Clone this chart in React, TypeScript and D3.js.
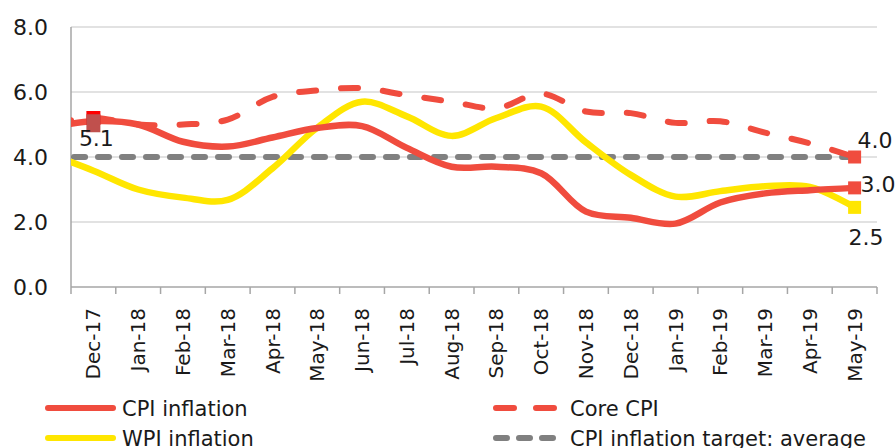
import * as d3 from "d3";
import React from "react";

// Nov-17 sits just left of the axis: only the start of its curve is visible
const months = ["Nov-17", "Dec-17", "Jan-18", "Feb-18", "Mar-18", "Apr-18", "May-18", "Jun-18", "Jul-18", "Aug-18", "Sep-18", "Oct-18", "Nov-18", "Dec-18", "Jan-19", "Feb-19", "Mar-19", "Apr-19", "May-19"];
const shown = months.slice(1);

const cpi = [4.9, 5.1, 5.0, 4.47, 4.32, 4.6, 4.89, 4.95, 4.28, 3.7, 3.7, 3.5, 2.32, 2.13, 1.95, 2.6, 2.88, 2.98, 3.05];
const coreCpi = [5.0, 5.2, 5.0, 5.0, 5.15, 5.85, 6.05, 6.12, 5.9, 5.7, 5.5, 5.95, 5.4, 5.35, 5.05, 5.1, 4.75, 4.42, 4.0];
const wpi = [4.1, 3.58, 3.0, 2.75, 2.68, 3.65, 4.9, 5.7, 5.25, 4.65, 5.2, 5.55, 4.45, 3.45, 2.78, 2.95, 3.1, 3.08, 2.45];
const target = [4.0, 4.0, 4.0, 4.0, 4.0, 4.0, 4.0, 4.0, 4.0, 4.0, 4.0, 4.0, 4.0, 4.0, 4.0, 4.0, 4.0, 4.0, 4.0];
const yTicks = [0, 2, 4, 6, 8];

const RED = "#f04c3e";
const YELLOW = "#ffe600";
const GRAY = "#808080";
const FONT = "DejaVu Sans";

const W = 896, H = 448;
const left = 71, right = 877, top = 27, bottom = 287;

export default function App() {
  const step = (right - left) / shown.length;
  const x = d3.scaleBand().domain(months).range([left - step, right]);
  const cx = (m: string) => (x(m) as number) + x.bandwidth() / 2;
  const y = d3.scaleLinear().domain([0, 8]).range([bottom, top]);

  const line = (vals: number[]) =>
    d3.line<number>()
      .x((_, i) => cx(months[i]))
      .y(d => y(d))
      .curve(d3.curveCatmullRom.alpha(0.5))(vals) as string;

  const first = months[1];
  const last = months[months.length - 1];
  const n = months.length - 1;
  const sq = 13;

  // start the grey dash right at the axis
  const lead = left - cx(months[0]) + 3;
  const grayOffset = -(lead % 24);

  return (
    <svg width={W} height={H} style={{ position: "absolute", left: 0, top: 0, background: "#fff" }} fontFamily={FONT}>
      <defs>
        <clipPath id="plot">
          <rect x={left} y={0} width={W - left} height={H} />
        </clipPath>
      </defs>

      {yTicks.filter(t => t > 0).map(t => (
        <line key={t} x1={left} x2={right} y1={y(t)} y2={y(t)} stroke="#d9d9d9" strokeWidth={1.5} />
      ))}
      <line x1={left} x2={left} y1={top} y2={bottom} stroke="#a6a6a6" strokeWidth={1.5} />
      <line x1={left} x2={right} y1={bottom} y2={bottom} stroke="#a6a6a6" strokeWidth={1.5} />
      {d3.range(shown.length + 1).map(i => (
        <line key={i} x1={left + i * step} x2={left + i * step} y1={bottom} y2={bottom + 7} stroke="#a6a6a6" strokeWidth={1.5} />
      ))}

      {yTicks.map(t => (
        <text key={t} x={48} y={y(t) + 8} textAnchor="end" fontSize={22} fill="#1a1a1a">{t.toFixed(1)}</text>
      ))}
      {shown.map(m => (
        <text key={m} transform={`translate(${cx(m) + 7},${bottom + 21}) rotate(-90)`} textAnchor="end" fontSize={20} fill="#1a1a1a">{m}</text>
      ))}

      <g clipPath="url(#plot)" fill="none" strokeLinecap="round" strokeLinejoin="round">
        <path d={line(target)} stroke={GRAY} strokeWidth={6} strokeDasharray="11,13" strokeDashoffset={grayOffset} />
        <path d={line(wpi)} stroke={YELLOW} strokeWidth={6.5} />
        <path d={line(cpi)} stroke={RED} strokeWidth={6.5} />
        <path d={line(coreCpi)} stroke={RED} strokeWidth={6} strokeDasharray="17,25" strokeDashoffset={-6} />
      </g>

      <rect x={cx(first) - 7} y={y(coreCpi[1]) - 7} width={14} height={14} fill="#ff0000" />
      <rect x={cx(first) - 7} y={y(cpi[1]) - 7} width={14} height={18} fill="#c0504d" />
      <rect x={cx(last) - sq / 2} y={y(coreCpi[n]) - sq / 2} width={sq} height={sq} fill={RED} />
      <rect x={cx(last) - sq / 2} y={y(cpi[n]) - sq / 2} width={sq} height={sq} fill={RED} />
      <rect x={cx(last) - sq / 2} y={y(wpi[n]) - sq / 2} width={sq} height={sq} fill={YELLOW} />

      <g fontSize={22} fill="#1a1a1a">
        <text x={cx(first) + 3} y={y(cpi[1]) + 25} textAnchor="middle">{cpi[1].toFixed(1)}</text>
        <text x={cx(last) + 3} y={y(coreCpi[n]) - 9}>{coreCpi[n].toFixed(1)}</text>
        <text x={cx(last) + 6} y={y(cpi[n]) + 4}>{cpi[n].toFixed(1)}</text>
        <text x={cx(last) - 6} y={y(wpi[n]) + 38}>{wpi[n].toFixed(1)}</text>
      </g>

      <g fontSize={21} fill="#1a1a1a" strokeLinecap="round">
        <line x1={48} x2={113} y1={408} y2={408} stroke={RED} strokeWidth={6} />
        <text x={122} y={416}>CPI inflation</text>
        <line x1={48} x2={113} y1={438} y2={438} stroke={YELLOW} strokeWidth={6} />
        <text x={122} y={446}>WPI inflation</text>
        <line x1={496} x2={554} y1={408} y2={408} stroke={RED} strokeWidth={6} strokeDasharray="18,22" />
        <text x={570} y={416}>Core CPI</text>
        <line x1={496} x2={554} y1={438} y2={438} stroke={GRAY} strokeWidth={6} strokeDasharray="11,12" />
        <text x={570} y={446}>CPI inflation target: average</text>
      </g>
    </svg>
  );
}
